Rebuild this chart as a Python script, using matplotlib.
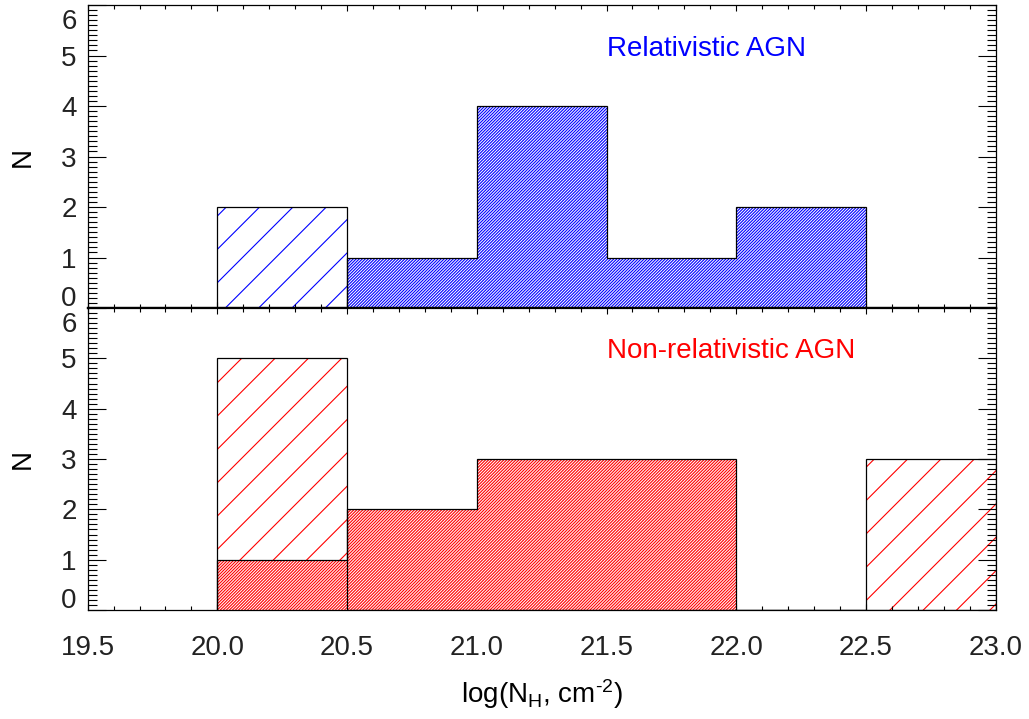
import matplotlib
matplotlib.use('Agg')
import matplotlib.pyplot as plt
from matplotlib.ticker import MultipleLocator
from matplotlib.transforms import ScaledTranslation

# log N_H bins (0.5 dex wide)
edges = [20.0, 20.5, 21.0, 21.5, 22.0, 22.5, 23.0]

# relativistic AGN: measured column densities and upper limits (totals)
rel_meas = [0, 1, 4, 1, 2, 0]
rel_total = [2, 0, 0, 0, 0, 0]

# non-relativistic AGN
nonrel_meas = [1, 2, 3, 3, 0, 0]
nonrel_total = [5, 0, 0, 0, 0, 3]

plt.rcParams['font.family'] = ['Liberation Sans', 'DejaVu Sans']
plt.rcParams['font.size'] = 10
plt.rcParams['mathtext.fontset'] = 'custom'
plt.rcParams['mathtext.rm'] = 'Liberation Sans'
plt.rcParams['mathtext.it'] = 'Liberation Sans:italic'
plt.rcParams['hatch.linewidth'] = 0.4

fig = plt.figure(figsize=(5.145, 3.595), dpi=200)
ax_top = fig.add_axes([0.0852, 0.5716, 0.8824, 0.4214])
ax_bot = fig.add_axes([0.0852, 0.1516, 0.8824, 0.4200])

lefts = edges[:-1]
width = edges[1] - edges[0]


def draw_panel(ax, meas, total, color, label):
    # sparse hatch: upper limits
    ax.bar(lefts, total, width=width, align='edge', facecolor='white',
           edgecolor=color, hatch='//', linewidth=0, zorder=1)
    ax.stairs(total, edges, baseline=0, color='black', lw=0.45, zorder=3)
    # dense hatch: measured values
    ax.bar(lefts, meas, width=width, align='edge', facecolor='white',
           edgecolor=color, hatch='/' * 22, linewidth=0, zorder=2)
    ax.stairs(meas, edges, baseline=0, color='black', lw=0.45, zorder=3)

    ax.text(21.5, 5.0, label, color=color, fontsize=10, va='baseline', ha='left')

    ax.set_xlim(19.5, 23.0)
    ax.set_ylim(0, 6)
    ax.xaxis.set_major_locator(MultipleLocator(0.5))
    ax.xaxis.set_minor_locator(MultipleLocator(0.1))
    ax.yaxis.set_major_locator(MultipleLocator(1))
    ax.yaxis.set_minor_locator(MultipleLocator(0.1))
    ax.tick_params(which='both', direction='in', top=True, right=True,
                   width=0.4, colors='black', labelcolor='#222222')
    ax.tick_params(axis='y', which='major', length=6.5, pad=4)
    ax.tick_params(axis='y', which='minor', length=3.3)
    ax.tick_params(axis='x', which='major', length=2.2, pad=9)
    ax.tick_params(axis='x', which='minor', length=1.3)
    for sp in ax.spines.values():
        sp.set_linewidth(0.45)

    ax.set_ylabel('N', fontsize=10)
    ax.yaxis.set_label_coords(-0.057, 0.5)


draw_panel(ax_top, rel_meas, rel_total, '#0000ff', 'Relativistic AGN')
draw_panel(ax_bot, nonrel_meas, nonrel_total, '#ff0000', 'Non-relativistic AGN')

ax_top.tick_params(axis='x', labelbottom=False)
ax_top.spines['bottom'].set_linewidth(0.8)
ax_bot.spines['top'].set_linewidth(0.8)
ax_bot.xaxis.set_major_formatter(plt.FormatStrFormatter('%.1f'))

ax_bot.set_xlabel(r'log(N$_{\mathrm{H}}$, cm$^{\text{-}2}$)', fontsize=10)
ax_bot.xaxis.set_label_coords(0.5, -0.222)

# end labels of each panel sit inside the axis range
fig.canvas.draw()
shift_down = ScaledTranslation(0, -4 / 200, fig.dpi_scale_trans)
shift_up = ScaledTranslation(0, 2 / 200, fig.dpi_scale_trans)
for ax in (ax_top, ax_bot):
    for t in ax.get_yticklabels():
        if t.get_text() == '0':
            t.set_va('baseline')
            t.set_transform(t.get_transform() + shift_up)
        elif t.get_text() == '6':
            t.set_va('top')
            t.set_transform(t.get_transform() + shift_down)

fig.savefig('out.png', dpi=200, facecolor='white')
